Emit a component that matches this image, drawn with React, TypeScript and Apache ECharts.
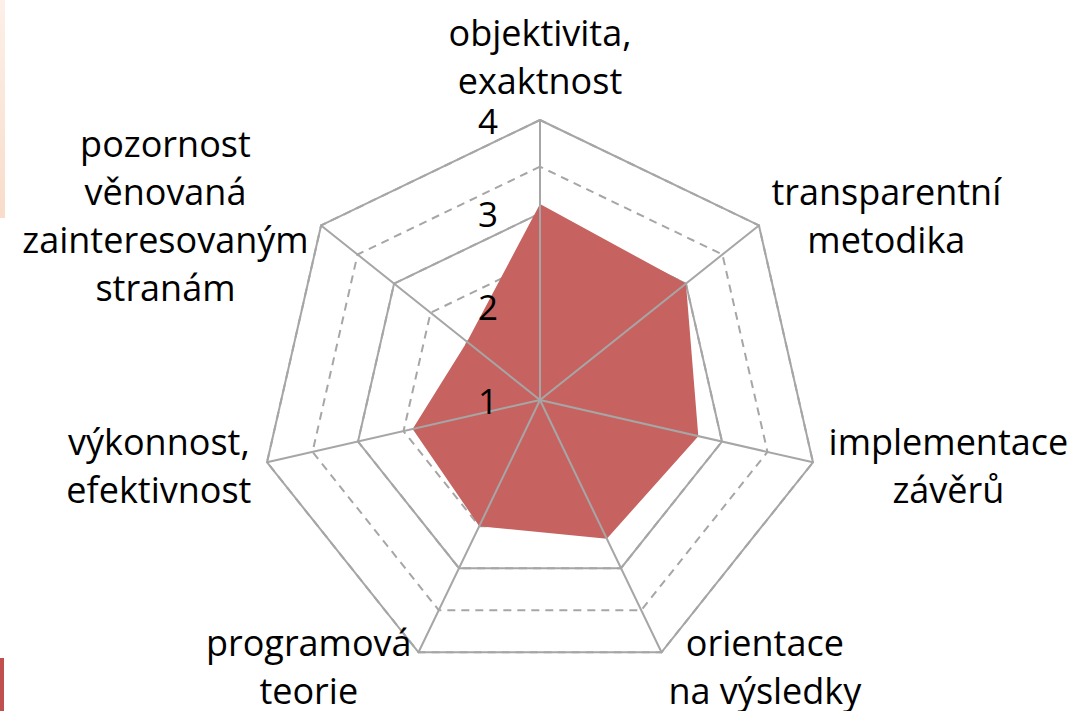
import React, { useEffect, useRef } from "react";
import * as echarts from "echarts";

// Indicators listed counter-clockwise from the top (ECharts radar order)
const categories: string[] = [
  "objektivita,\nexaktnost",
  "pozornost\nvěnovaná\nzainteresovaným\nstranám",
  "výkonnost,\nefektivnost",
  "programová\nteorie",
  "orientace\nna výsledky",
  "implementace\nzávěrů",
  "transparentní\nmetodika",
];
const values: number[] = [3.1, 2.0, 2.4, 2.5, 2.65, 2.74, 3.0];
const axisMin = 1;
const axisMax = 4;

const FONT = "'Open Sans'";
const GRID = "#A6A6A6";

export default function App() {
  const ref = useRef<HTMLDivElement>(null);
  useEffect(() => {
    if (!ref.current) return;
    const chart = echarts.init(ref.current, null, { renderer: "svg" });
    const center = [540, 400];
    const radius = 280;
    const baseInd = categories.map((c) => ({ name: c, min: axisMin, max: axisMax }));
    const common = {
      center,
      radius,
      startAngle: 90,
      shape: "polygon",
      splitArea: { show: false },
      axisTick: { show: false },
    };
    const option: any = {
      animation: false,
      backgroundColor: "#ffffff",
      radar: [
        {
          ...common,
          z: 0,
          indicator: baseInd,
          splitNumber: 6,
          axisName: { show: false },
          axisLine: { show: false },
          axisLabel: { show: false },
          splitLine: { lineStyle: { color: GRID, width: 2, type: [8, 6] } },
        },
        {
          ...common,
          z: 1,
          indicator: baseInd,
          splitNumber: 3,
          nameGap: 16,
          axisName: {
            show: true,
            color: "#000",
            fontSize: 36,
            fontFamily: FONT,
            lineHeight: 48,
            formatter: (v: string) =>
              v
                .split("\n")
                .map((l) => `{c|${l}}`)
                .join("\n"),
            rich: {
              c: { align: "center", fontSize: 36, fontFamily: FONT, lineHeight: 48, color: "#000" },
            },
          },
          axisLine: { show: false },
          axisLabel: { show: false },
          splitLine: { lineStyle: { color: GRID, width: 2 } },
        },
        {
          ...common,
          z: 3,
          indicator: categories.map((c, i) =>
            i === 0
              ? {
                  name: c,
                  min: axisMin,
                  max: axisMax,
                  axisLabel: {
                    show: true,
                    margin: 42,
                    fontSize: 35,
                    fontFamily: FONT,
                    color: "#000",
                    lineHeight: 22,
                    padding: [8, 0, 0, 0],
                  },
                }
              : { name: c, min: axisMin, max: axisMax }
          ),
          splitNumber: 3,
          axisName: { show: false },
          axisLine: { show: true, lineStyle: { color: GRID, width: 2 } },
          axisLabel: { show: false },
          splitLine: { show: false },
        },
      ],
      series: [
        {
          type: "radar",
          radarIndex: 1,
          z: 2,
          symbol: "none",
          lineStyle: { width: 0, color: "#C66360" },
          areaStyle: { color: "#C66360", opacity: 1 },
          data: [{ value: values, name: "hodnocení" }],
        },
      ],
      graphic: [
        {
          type: "rect",
          left: 0,
          top: 0,
          shape: { width: 5, height: 218 },
          style: {
            fill: new echarts.graphic.LinearGradient(0, 0, 0, 1, [
              { offset: 0, color: "#FCF0E8" },
              { offset: 1, color: "#F9DCCA" },
            ]),
          },
        },
        {
          type: "rect",
          left: 0,
          top: 658,
          shape: { width: 4, height: 53 },
          style: { fill: "#C0504D" },
        },
      ],
    };
    chart.setOption(option);
    return () => chart.dispose();
  }, []);
  return (
    <div
      ref={ref}
      style={{ position: "fixed", left: 0, top: 0, width: 1074, height: 711 }}
    />
  );
}
